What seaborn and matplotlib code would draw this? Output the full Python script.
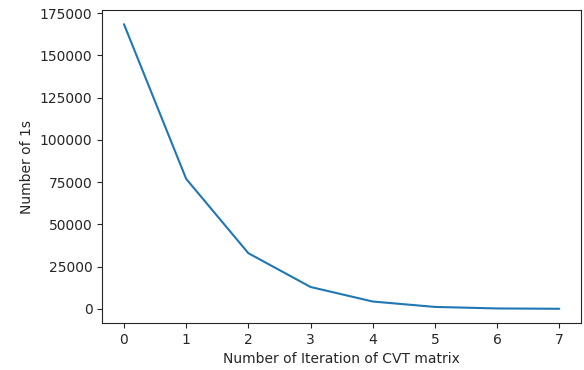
import matplotlib
matplotlib.use("Agg")
import matplotlib.pyplot as plt
import seaborn as sns
import pandas as pd

# values
iterations = [0, 1, 2, 3, 4, 5, 6, 7]
num_ones = [168500, 77000, 33000, 13000, 4400, 1200, 300, 100]

df = pd.DataFrame({"iteration": iterations, "ones": num_ones})

sns.set_style("ticks")
plt.rcParams["font.family"] = ["DejaVu Sans"]

fig, ax = plt.subplots(figsize=(5.84, 3.70), dpi=100)
sns.lineplot(data=df, x="iteration", y="ones", color="#1f77b4", linewidth=1.5, ax=ax)

ax.set_xlabel("Number of Iteration of CVT matrix")
ax.set_ylabel("Number of 1s")
ax.set_xticks(iterations)

plt.subplots_adjust(left=0.175, right=0.995, top=0.973, bottom=0.127)
plt.savefig("out.png", dpi=100)
